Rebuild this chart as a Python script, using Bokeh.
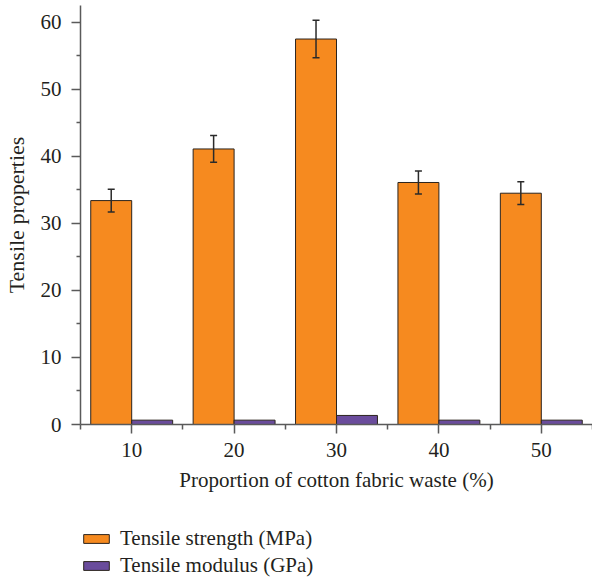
from bokeh.plotting import figure
from bokeh.layouts import column
from bokeh.models import (ColumnDataSource, Whisker, FixedTicker, Legend,
                          LegendItem, Range1d, TeeHead)
from bokeh.transform import dodge
from bokeh.embed import file_html
from bokeh.resources import INLINE

# ---- data ----
proportion = [10, 20, 30, 40, 50]
strength = [33.4, 41.1, 57.5, 36.1, 34.5]
strength_err = [1.7, 2.0, 2.8, 1.7, 1.7]
modulus = [0.65, 0.65, 1.35, 0.65, 0.65]

x_major_ticks = [10, 20, 30, 40, 50]
x_minor_ticks = [5, 15, 25, 35, 45, 55]
y_major_ticks = [0, 10, 20, 30, 40, 50, 60]
y_minor_ticks = [5, 15, 25, 35, 45, 55]

series_labels = ["Tensile strength (MPa)", "Tensile modulus (GPa)"]
x_title = "Proportion of cotton fabric waste (%)"
y_title = "Tensile properties"

# ---- styles ----
ORANGE = "#F68A1F"
PURPLE = "#6A4C9C"
EDGE = "#2b241e"
AXIS = "#5a5a5a"
TEXT = "#231f20"
FONT = "Liberation Serif"
FS = "21px"

source = ColumnDataSource(dict(
    x=proportion,
    strength=strength,
    upper=[s + e for s, e in zip(strength, strength_err)],
    lower=[s - e for s, e in zip(strength, strength_err)],
    modulus=modulus,
))

p = figure(width=592, height=500, x_range=Range1d(5, 55), y_range=Range1d(0, 62.5),
           output_backend="svg", toolbar_location=None,
           min_border_left=79, min_border_right=0, min_border_top=5,
           min_border_bottom=76)
p.outline_line_color = None
p.xgrid.visible = False
p.ygrid.visible = False

bw = 4
r1 = p.vbar(x=dodge("x", -bw / 2), top="strength", width=bw, source=source,
            fill_color=ORANGE, line_color=EDGE, line_width=1)
r2 = p.vbar(x=dodge("x", bw / 2), top="modulus", width=bw, source=source,
            fill_color=PURPLE, line_color=EDGE, line_width=1)

wh = Whisker(base=dodge("x", -bw / 2), upper="upper", lower="lower", source=source,
             line_color="#2a2a2a", line_width=1.5, level="overlay",
             upper_head=TeeHead(size=7, line_color="#2a2a2a", line_width=1.5),
             lower_head=TeeHead(size=7, line_color="#2a2a2a", line_width=1.5))
p.add_layout(wh)

for ax in (p.xaxis[0], p.yaxis[0]):
    ax.axis_line_color = AXIS
    ax.axis_line_width = 1.5
    ax.major_tick_line_color = AXIS
    ax.minor_tick_line_color = AXIS
    ax.major_tick_line_width = 1.5
    ax.minor_tick_line_width = 1.5
    ax.major_tick_in = 0
    ax.minor_tick_in = 0
    ax.major_tick_out = 9
    ax.major_label_text_font = FONT
    ax.major_label_text_font_size = FS
    ax.major_label_text_color = TEXT
    ax.axis_label_text_font = FONT
    ax.axis_label_text_font_size = FS
    ax.axis_label_text_font_style = "normal"
    ax.axis_label_text_color = TEXT

p.xaxis.ticker = FixedTicker(ticks=x_major_ticks, minor_ticks=x_minor_ticks)
p.yaxis.ticker = FixedTicker(ticks=y_major_ticks, minor_ticks=y_minor_ticks)
p.xaxis.minor_tick_out = 5
p.yaxis.minor_tick_out = 4
p.xaxis.axis_label = x_title
p.yaxis.axis_label = y_title
p.yaxis.axis_label_text_font_size = "22px"
p.xaxis.major_label_standoff = 9
p.xaxis.axis_label_standoff = 8
p.yaxis.major_label_standoff = 10
p.yaxis.axis_label_standoff = 9

# ---- legend in its own strip below the chart ----
lg = figure(width=592, height=78, x_range=Range1d(0, 1), y_range=Range1d(0, 1),
            output_backend="svg", toolbar_location=None,
            x_axis_location=None, y_axis_location=None,
            min_border_left=78, min_border_right=0, min_border_top=0,
            min_border_bottom=0)
lg.outline_line_color = None
lg.xgrid.visible = False
lg.ygrid.visible = False
# swatch renderers: their only bar lies outside the strip's visible range
hidden = ColumnDataSource(dict(x=[5], top=[5]))
l1 = lg.vbar(x="x", top="top", width=1, source=hidden,
             fill_color=ORANGE, line_color=EDGE, line_width=1)
l2 = lg.vbar(x="x", top="top", width=1, source=hidden,
             fill_color=PURPLE, line_color=EDGE, line_width=1)

legend = Legend(items=[LegendItem(label=series_labels[0], renderers=[l1]),
                       LegendItem(label=series_labels[1], renderers=[l2])],
                location="bottom_left", orientation="vertical",
                border_line_color=None, background_fill_alpha=0,
                label_text_font=FONT, label_text_font_size=FS,
                label_text_color=TEXT, glyph_width=32, glyph_height=11,
                label_standoff=8, spacing=2, padding=0, margin=0,
                label_height=22)
lg.add_layout(legend, "center")

layout = column(p, lg, spacing=0)
open("out.html", "w").write(file_html(layout, INLINE))
